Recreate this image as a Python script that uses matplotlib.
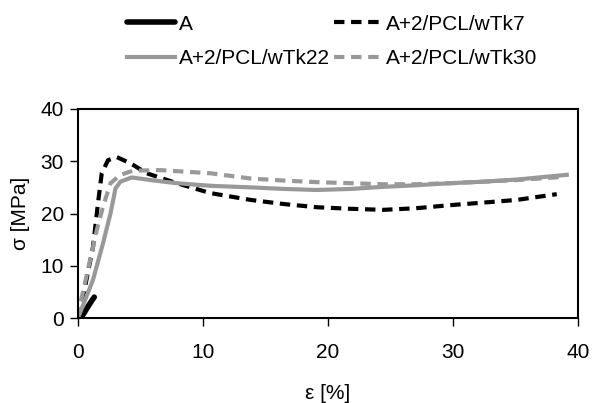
import matplotlib
matplotlib.use("Agg")
import matplotlib.pyplot as plt

plt.rcParams['font.family'] = ['Liberation Sans', 'DejaVu Sans']

# strain [%] / stress [MPa]
eps_a = [0.2, 0.5, 0.8, 1.1, 1.3]
sig_a = [0.0, 1.0, 2.2, 3.3, 4.0]

eps_tk7 = [0.0, 0.3, 1.2, 1.6, 1.9, 2.4, 3.1, 4.2, 5.5, 7.9, 10.6, 13.8, 16.5, 19.1, 21.8, 24.4, 27.0, 29.8, 32.5, 35.1, 38.3]
sig_tk7 = [0.0, 2.8, 13.6, 22.0, 27.7, 30.2, 30.8, 29.6, 27.7, 25.8, 23.9, 22.6, 21.8, 21.2, 20.9, 20.7, 21.0, 21.6, 22.1, 22.6, 23.7]

eps_tk22 = [0.0, 1.2, 2.0, 2.6, 3.0, 3.4, 4.3, 5.8, 7.9, 10.6, 13.8, 16.5, 19.1, 21.8, 24.4, 27.0, 29.8, 32.5, 35.1, 39.1]
sig_tk22 = [0.0, 7.3, 14.3, 20.0, 24.8, 26.1, 26.9, 26.4, 25.8, 25.3, 25.0, 24.7, 24.5, 24.7, 25.1, 25.4, 25.8, 26.1, 26.5, 27.4]

eps_tk30 = [0.0, 0.2, 1.5, 2.0, 2.6, 3.4, 4.4, 6.6, 10.6, 13.8, 16.5, 19.1, 21.8, 24.4, 27.0, 29.8, 32.5, 35.1, 38.8]
sig_tk30 = [0.0, 2.9, 16.8, 21.3, 25.8, 27.4, 28.2, 28.3, 27.7, 26.7, 26.3, 26.0, 25.8, 25.6, 25.6, 25.8, 26.1, 26.4, 27.0]

gray = '#999999'
fs = 15
dash = (0, (2.5, 1.6))

fig = plt.figure(figsize=(5.94, 4.03), dpi=100)
ax = fig.add_axes([78 / 594, 1 - 318 / 403, 500 / 594, 209 / 403])

la, = ax.plot(eps_a, sig_a, color='black', lw=4, solid_capstyle='round', label='A')
l7, = ax.plot(eps_tk7, sig_tk7, color='black', lw=3, ls=dash, label='A+2/PCL/wTk7')
l22, = ax.plot(eps_tk22, sig_tk22, color=gray, lw=3, label='A+2/PCL/wTk22')
l30, = ax.plot(eps_tk30, sig_tk30, color=gray, lw=3, ls=dash, label='A+2/PCL/wTk30')

ax.set_xlim(0, 40)
ax.set_ylim(0, 40)
ax.set_xticks([0, 10, 20, 30, 40])
ax.set_yticks([0, 10, 20, 30, 40])
ax.tick_params(direction='out', length=6, width=1, labelsize=fs, pad=4)
ax.tick_params(axis='x', pad=12)
for s in ax.spines.values():
    s.set_linewidth(1.5)

ax.set_xlabel('ε [%]', fontsize=fs, labelpad=16)
ax.set_ylabel('σ [MPa]', fontsize=fs, labelpad=8)

# column-first fill: A / wTk7 on the first row, wTk22 / wTk30 on the second
fig.legend([la, l22, l7, l30], [la.get_label(), l22.get_label(), l7.get_label(), l30.get_label()],
           loc='upper left', bbox_to_anchor=(112 / 594, 1.0), ncol=2, frameon=False,
           fontsize=fs, handlelength=2.3, handletextpad=0.2, columnspacing=0.2,
           labelspacing=0.75, borderaxespad=0.3)

fig.savefig('out.png', dpi=100)
